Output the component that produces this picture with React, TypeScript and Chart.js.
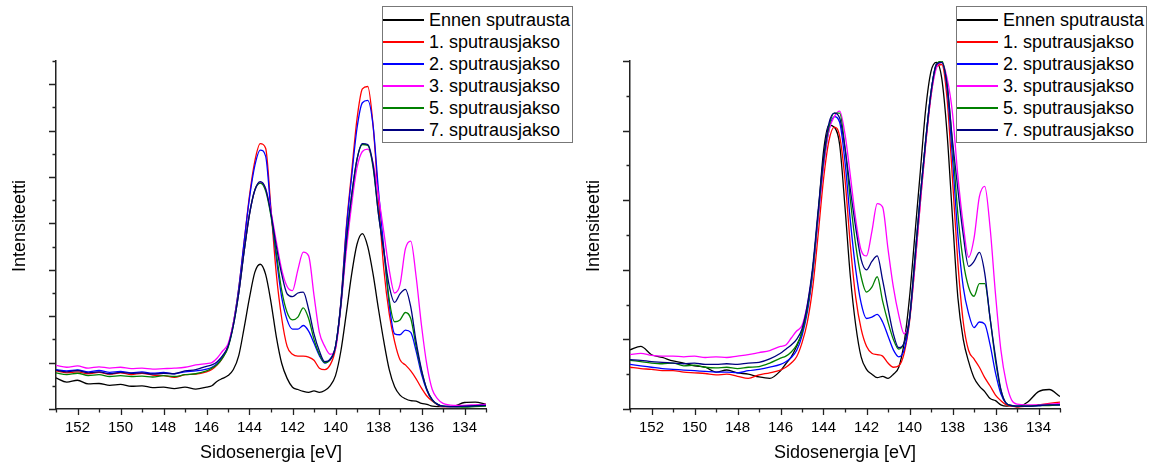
import React, { useEffect, useRef } from 'react';
import { Chart, registerables } from 'chart.js';

Chart.register(...registerables);

const FONT = "'Liberation Sans', Arial, Helvetica, sans-serif";
Chart.defaults.font.family = FONT;

// Binding energy grid (eV), shared by both panels
const ENERGY = [
  153, 152.5, 152, 151.5, 151, 150.5, 150, 149.5, 149, 148.5, 148, 147.5, 147, 146.5, 146,
  145.75, 145.5, 145.25, 145, 144.75, 144.5, 144.25, 144, 143.75, 143.5, 143.25, 143, 142.75, 142.5, 142.25,
  142, 141.75, 141.5, 141.25, 141, 140.75, 140.5, 140.25, 140, 139.75, 139.5, 139.25, 139, 138.75, 138.5,
  138.25, 138, 137.75, 137.5, 137.25, 137, 136.75, 136.5, 136.25, 136, 135.75, 135.5, 135.25, 135,
  134.5, 134, 133.5, 133,
];

const SERIES_LABELS = [
  'Ennen sputrausta',
  '1. sputrausjakso',
  '2. sputrausjakso',
  '3. sputrausjakso',
  '5. sputrausjakso',
  '7. sputrausjakso',
];
const SERIES_COLORS = ['#000000', '#ff0000', '#0000ff', '#ff00ff', '#008000', '#000080'];

const X_TITLE = 'Sidosenergia [eV]';
const Y_TITLE = 'Intensiteetti';

// ---- Left panel intensities (arb. units) ----
const L_ENNEN = [
  0.67, 0.58, 0.62, 0.54, 0.55, 0.51, 0.53, 0.49, 0.50, 0.46, 0.47, 0.44, 0.47, 0.43, 0.47,
  0.50, 0.60, 0.66, 0.72, 0.85, 1.15, 1.75, 2.4, 2.95, 3.12, 2.9, 2.3, 1.55, 0.98, 0.66,
  0.47, 0.42, 0.38, 0.36, 0.39, 0.36, 0.40, 0.50, 0.72, 1.25, 2.05, 2.9, 3.55, 3.78, 3.5,
  2.9, 2.15, 1.45, 0.85, 0.48, 0.30, 0.22, 0.18, 0.17, 0.12, 0.10, 0.06, 0.05, 0.05,
  0.06, 0.14, 0.15, 0.10,
];
const L_S1 = [
  0.82, 0.78, 0.80, 0.76, 0.79, 0.75, 0.78, 0.74, 0.77, 0.73, 0.72, 0.68, 0.74, 0.75, 0.80,
  0.85, 0.95, 1.1, 1.35, 1.85, 2.6, 3.6, 4.6, 5.35, 5.72, 5.62, 4.3, 2.9, 1.95, 1.35,
  1.18, 1.14, 1.14, 1.12, 1.05, 0.88, 0.85, 0.95, 1.3, 2.3, 3.9, 5.1, 6.25, 6.9, 6.95,
  6.1, 4.5, 3.0, 2.05, 1.45, 1.06, 0.95, 0.82, 0.65, 0.45, 0.28, 0.17, 0.09, 0.05,
  0.05, 0.06, 0.08, 0.10,
];
const L_S2 = [
  0.85, 0.82, 0.84, 0.80, 0.83, 0.79, 0.81, 0.78, 0.80, 0.77, 0.79, 0.76, 0.80, 0.82, 0.86,
  0.9, 0.98, 1.12, 1.35, 1.85, 2.6, 3.6, 4.55, 5.25, 5.58, 5.45, 4.25, 3.25, 2.4, 1.92,
  1.72, 1.72, 1.8, 1.68, 1.42, 1.15, 0.99, 1.08, 1.35, 2.3, 3.85, 5.0, 6.05, 6.6, 6.65,
  6.1, 4.7, 3.45, 2.25, 1.62, 1.6, 1.7, 1.65, 1.25, 0.75, 0.4, 0.19, 0.1, 0.06,
  0.05, 0.05, 0.06, 0.08,
];
const L_S3 = [
  0.94, 0.90, 0.93, 0.88, 0.91, 0.88, 0.90, 0.87, 0.88, 0.86, 0.87, 0.88, 0.90, 0.95, 0.98,
  1.0, 1.1, 1.25, 1.4, 1.85, 2.5, 3.4, 4.2, 4.72, 4.88, 4.75, 4.25, 3.6, 3.0, 2.64,
  2.55, 3.0, 3.38, 3.3, 2.45, 1.65, 1.35, 1.18, 1.3, 2.2, 3.4, 4.4, 5.2, 5.55, 5.6,
  5.3, 4.6, 3.8, 3.0, 2.5, 2.68, 3.45, 3.62, 2.85, 1.8, 0.95, 0.42, 0.22, 0.12,
  0.08, 0.08, 0.09, 0.10,
];
const L_S5 = [
  0.78, 0.74, 0.77, 0.72, 0.74, 0.70, 0.72, 0.70, 0.71, 0.69, 0.72, 0.70, 0.74, 0.76, 0.82,
  0.88, 0.96, 1.1, 1.32, 1.8, 2.5, 3.4, 4.2, 4.72, 4.87, 4.7, 4.15, 3.35, 2.55, 2.08,
  1.92, 1.98, 2.18, 1.95, 1.5, 1.18, 1.0, 1.06, 1.35, 2.25, 3.6, 4.6, 5.38, 5.7, 5.68,
  5.2, 4.2, 3.4, 2.35, 1.88, 1.92, 2.08, 1.95, 1.35, 0.82, 0.42, 0.19, 0.1, 0.06,
  0.05, 0.04, 0.05, 0.06,
];
const L_S7 = [
  0.84, 0.80, 0.83, 0.78, 0.80, 0.76, 0.79, 0.77, 0.78, 0.75, 0.77, 0.76, 0.82, 0.85, 0.92,
  0.95, 1.02, 1.15, 1.35, 1.8, 2.5, 3.4, 4.2, 4.72, 4.9, 4.75, 4.2, 3.5, 2.9, 2.48,
  2.42, 2.5, 2.52, 2.15, 1.62, 1.25, 1.02, 1.06, 1.35, 2.25, 3.6, 4.6, 5.38, 5.72, 5.7,
  5.25, 4.2, 3.4, 2.65, 2.3, 2.48, 2.58, 2.2, 1.45, 0.85, 0.42, 0.2, 0.1, 0.06,
  0.05, 0.06, 0.07, 0.08,
];

// ---- Right panel intensities (normalised) ----
const R_ENNEN = [
  0.85, 0.90, 0.78, 0.74, 0.69, 0.66, 0.62, 0.60, 0.53, 0.56, 0.52, 0.50, 0.46, 0.44, 0.55,
  0.65, 0.75, 0.9, 1.1, 1.45, 2.0, 2.8, 3.7, 4.08, 4.05, 3.8, 2.9, 1.9, 1.2, 0.75,
  0.57, 0.5, 0.45, 0.47, 0.44, 0.5, 0.6, 0.95, 1.6, 2.5, 3.4, 4.3, 4.85, 4.98, 4.75,
  3.95, 2.75, 1.6, 1.0, 0.68, 0.45, 0.33, 0.25, 0.15, 0.12, 0.06, 0.04, 0.05, 0.03,
  0.10, 0.25, 0.28, 0.18,
];
const R_S1 = [
  0.60, 0.58, 0.57, 0.55, 0.55, 0.53, 0.52, 0.51, 0.49, 0.50, 0.47, 0.44, 0.49, 0.52, 0.56,
  0.6, 0.66, 0.75, 0.95, 1.25, 1.75, 2.5, 3.3, 3.85, 4.05, 3.92, 3.3, 2.35, 1.6, 1.15,
  0.9, 0.8, 0.78, 0.76, 0.66, 0.6, 0.62, 0.8, 1.25, 2.05, 2.95, 3.8, 4.5, 4.92, 4.95,
  4.45, 3.3, 2.1, 1.25, 0.84, 0.72, 0.6, 0.45, 0.33, 0.2, 0.12, 0.06, 0.04, 0.03,
  0.04, 0.06, 0.08, 0.10,
];
const R_S2 = [
  0.64, 0.62, 0.60, 0.58, 0.57, 0.56, 0.55, 0.54, 0.53, 0.53, 0.52, 0.55, 0.57, 0.60, 0.64,
  0.68, 0.74, 0.84, 1.05, 1.4, 1.95, 2.75, 3.5, 4.0, 4.2, 4.12, 3.55, 2.7, 2.0, 1.52,
  1.3, 1.32, 1.36, 1.25, 1.05, 0.85, 0.75, 0.85, 1.28, 2.15, 3.05, 3.85, 4.55, 4.95, 4.98,
  4.6, 3.6, 2.5, 1.75, 1.37, 1.17, 1.25, 1.22, 0.92, 0.52, 0.22, 0.08, 0.05, 0.04,
  0.04, 0.05, 0.06, 0.06,
];
const R_S3 = [
  0.78, 0.80, 0.77, 0.76, 0.76, 0.75, 0.76, 0.74, 0.75, 0.74, 0.76, 0.78, 0.81, 0.84, 0.90,
  0.92, 1.02, 1.12, 1.2, 1.5, 2.0, 2.75, 3.5, 4.0, 4.2, 4.28, 3.95, 3.35, 2.72, 2.28,
  2.2, 2.55, 2.95, 2.9, 2.3, 1.75, 1.35, 1.08, 1.3, 2.05, 2.95, 3.8, 4.5, 4.9, 4.98,
  4.75, 4.25, 3.35, 2.65, 2.18, 2.45, 3.05, 3.2, 2.6, 1.65, 0.85, 0.38, 0.13, 0.07,
  0.06, 0.06, 0.07, 0.08,
];
const R_S5 = [
  0.70, 0.68, 0.66, 0.65, 0.66, 0.62, 0.63, 0.60, 0.59, 0.60, 0.58, 0.60, 0.61, 0.66, 0.73,
  0.76, 0.82, 0.92, 1.1, 1.45, 2.0, 2.8, 3.55, 4.05, 4.25, 4.25, 3.75, 3.0, 2.35, 1.9,
  1.68, 1.75, 1.9, 1.55, 1.25, 1.0, 0.86, 0.95, 1.3, 2.15, 3.05, 3.85, 4.55, 4.95, 5.0,
  4.65, 3.8, 2.8, 2.12, 1.75, 1.62, 1.8, 1.8, 1.3, 0.7, 0.27, 0.08, 0.05, 0.04,
  0.04, 0.05, 0.05, 0.06,
];
const R_S7 = [
  0.71, 0.70, 0.68, 0.67, 0.66, 0.65, 0.66, 0.64, 0.64, 0.65, 0.64, 0.66, 0.67, 0.72, 0.80,
  0.86, 0.92, 1.0, 1.15, 1.5, 2.05, 2.85, 3.6, 4.1, 4.25, 4.18, 3.75, 3.15, 2.6, 2.15,
  2.0, 2.12, 2.2, 1.85, 1.45, 1.08, 0.88, 0.95, 1.3, 2.15, 3.05, 3.85, 4.55, 4.95, 4.98,
  4.65, 3.85, 3.15, 2.5, 2.05, 2.12, 2.25, 1.95, 1.3, 0.75, 0.28, 0.08, 0.05, 0.04,
  0.04, 0.05, 0.06, 0.06,
];

// ---- Axis ticks ----
const X_MAJOR_TICKS = [152, 150, 148, 146, 144, 142, 140, 138, 136, 134];
const X_MINOR_TICKS = [153, 151, 149, 147, 145, 143, 141, 139, 137, 135, 133];
const X_MIN = 133;
const X_MAX = 153;
const Y_LEFT_MAX = 7.5;
const Y_LEFT_MAJOR = [0, 1, 2, 3, 4, 5, 6, 7];
const Y_LEFT_MINOR = [0.5, 1.5, 2.5, 3.5, 4.5, 5.5, 6.5, 7.5];
const Y_RIGHT_MAX = 5;
const Y_RIGHT_MAJOR = [0, 1, 2, 3, 4, 5];
const Y_RIGHT_MINOR = [0.5, 1.5, 2.5, 3.5, 4.5];

const AXIS_COLOR = '#222222';
const CANVAS_W = 574;
const CANVAS_H = 466;

function makeTickPlugin(yMajor: number[], yMinor: number[]) {
  return {
    id: 'axisTickMarks',
    afterDraw(chart: any) {
      const { ctx, chartArea, scales } = chart;
      const xs = scales.x;
      const ys = scales.y;
      ctx.save();
      ctx.strokeStyle = AXIS_COLOR;
      ctx.lineWidth = 1.3;
      ctx.beginPath();
      X_MAJOR_TICKS.forEach((v) => {
        const p = Math.round(xs.getPixelForValue(v)) + 0.5;
        ctx.moveTo(p, chartArea.bottom);
        ctx.lineTo(p, chartArea.bottom + 6);
      });
      X_MINOR_TICKS.forEach((v) => {
        const p = Math.round(xs.getPixelForValue(v)) + 0.5;
        ctx.moveTo(p, chartArea.bottom);
        ctx.lineTo(p, chartArea.bottom + 3.5);
      });
      yMajor.forEach((v) => {
        const p = Math.round(ys.getPixelForValue(v)) + 0.5;
        ctx.moveTo(chartArea.left, p);
        ctx.lineTo(chartArea.left - 7, p);
      });
      yMinor.forEach((v) => {
        const p = Math.round(ys.getPixelForValue(v)) + 0.5;
        ctx.moveTo(chartArea.left, p);
        ctx.lineTo(chartArea.left - 3.5, p);
      });
      ctx.stroke();
      ctx.restore();
    },
  };
}

type PanelProps = {
  offset: number;
  series: number[][];
  yMax: number;
  yMajor: number[];
  yMinor: number[];
};

function Panel({ offset, series, yMax, yMajor, yMinor }: PanelProps) {
  const ref = useRef<HTMLCanvasElement | null>(null);

  useEffect(() => {
    if (!ref.current) return;
    const chart = new Chart(ref.current, {
      type: 'line',
      data: {
        datasets: series.map((vals, i) => ({
          label: SERIES_LABELS[i],
          data: ENERGY.map((e, k) => ({ x: e, y: vals[k] })),
          borderColor: SERIES_COLORS[i],
          backgroundColor: SERIES_COLORS[i],
          borderWidth: 1.3,
          pointRadius: 0,
          cubicInterpolationMode: 'monotone',
          fill: false,
          order: series.length - 1 - i,
        })),
      },
      options: {
        animation: false,
        responsive: false,
        devicePixelRatio: 1,
        events: [],
        layout: { padding: { top: 61, right: CANVAS_W - 486, bottom: 0, left: 0 } },
        plugins: {
          legend: { display: false },
          tooltip: { enabled: false },
        },
        scales: {
          x: {
            type: 'linear',
            reverse: true,
            min: X_MIN,
            max: X_MAX,
            afterBuildTicks: (s: any) => {
              s.ticks = X_MAJOR_TICKS.map((v) => ({ value: v }));
            },
            afterFit: (s: any) => {
              s.height = 57;
            },
            grid: { display: false, drawTicks: false },
            border: { display: true, color: AXIS_COLOR, width: 1.5 },
            ticks: {
              color: '#000',
              font: { size: 15 },
              padding: 10,
              maxRotation: 0,
              autoSkip: false,
              callback: (v: any) => String(v),
            },
            title: {
              display: true,
              text: X_TITLE,
              color: '#000',
              font: { size: 18 },
              padding: { top: 0, bottom: 2 },
            },
          },
          y: {
            type: 'linear',
            min: 0,
            max: yMax,
            afterFit: (s: any) => {
              s.width = 56;
            },
            grid: { display: false, drawTicks: false },
            border: { display: true, color: AXIS_COLOR, width: 1.5 },
            ticks: { display: false },
            title: { display: false },
          },
        },
      } as any,
      plugins: [makeTickPlugin(yMajor, yMinor)],
    });
    return () => chart.destroy();
  }, [series, yMax, yMajor, yMinor]);

  return (
    <div style={{ position: 'absolute', left: offset, top: 0, width: CANVAS_W, height: CANVAS_H }}>
      <canvas
        ref={ref}
        width={CANVAS_W}
        height={CANVAS_H}
        style={{ position: 'absolute', left: 0, top: 0, width: CANVAS_W, height: CANVAS_H }}
      />
      <div
        style={{
          position: 'absolute',
          left: 19 - 60,
          top: 226 - 11,
          width: 120,
          height: 22,
          lineHeight: '22px',
          textAlign: 'center',
          whiteSpace: 'nowrap',
          fontFamily: FONT,
          fontSize: 18,
          color: '#000',
          transform: 'rotate(-90deg)',
          transformOrigin: '50% 50%',
        }}
      >
        {Y_TITLE}
      </div>
      <div
        style={{
          position: 'absolute',
          left: 382,
          top: 6,
          width: 191,
          height: 137,
          boxSizing: 'border-box',
          border: '1px solid #777',
          background: '#fff',
          paddingTop: 2,
          fontFamily: FONT,
          fontSize: 18,
          color: '#000',
        }}
      >
        {SERIES_LABELS.map((label, i) => (
          <div
            key={label}
            style={{ display: 'flex', alignItems: 'center', height: 22, whiteSpace: 'nowrap', lineHeight: '22px' }}
          >
            <span
              style={{
                display: 'inline-block',
                width: 41,
                height: 2,
                background: SERIES_COLORS[i],
                marginLeft: 0,
                marginRight: 5,
                flex: '0 0 auto',
              }}
            />
            <span>{label}</span>
          </div>
        ))}
      </div>
    </div>
  );
}

const LEFT_SERIES = [L_ENNEN, L_S1, L_S2, L_S3, L_S5, L_S7];
const RIGHT_SERIES = [R_ENNEN, R_S1, R_S2, R_S3, R_S5, R_S7];

export default function App() {
  return (
    <div
      style={{
        position: 'fixed',
        left: 0,
        top: 0,
        width: 1158,
        height: 466,
        background: '#fff',
        overflow: 'hidden',
      }}
    >
      <Panel offset={0} series={LEFT_SERIES} yMax={Y_LEFT_MAX} yMajor={Y_LEFT_MAJOR} yMinor={Y_LEFT_MINOR} />
      <Panel offset={574} series={RIGHT_SERIES} yMax={Y_RIGHT_MAX} yMajor={Y_RIGHT_MAJOR} yMinor={Y_RIGHT_MINOR} />
    </div>
  );
}
